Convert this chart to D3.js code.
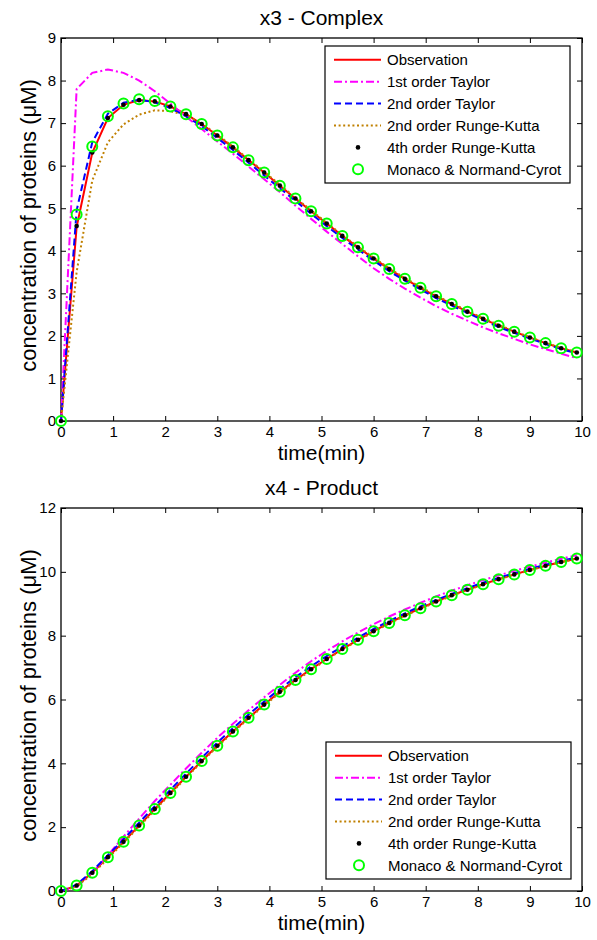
<!DOCTYPE html>
<html>
<head>
<meta charset="utf-8">
<script src="https://cdn.jsdelivr.net/npm/d3@7/dist/d3.min.js"></script>
<style>
  body { margin: 0; background: #fff; }
  svg text { font-family: "Liberation Sans", Arial, sans-serif; fill: #000; }
</style>
</head>
<body>
<svg id="chart" width="597" height="940"></svg>
<script>
// sample times (min)
const time = [0, 0.3, 0.6, 0.9, 1.2, 1.5, 1.8, 2.1, 2.4, 2.7, 3.0, 3.3, 3.6, 3.9, 4.2, 4.5, 4.8,
              5.1, 5.4, 5.7, 6.0, 6.3, 6.6, 6.9, 7.2, 7.5, 7.8, 8.1, 8.4, 8.7, 9.0, 9.3, 9.6, 9.9];

// x3 - Complex
const x3Obs     = [0, 4.56, 6.30, 7.12, 7.43, 7.54, 7.51, 7.39, 7.21, 6.98, 6.71, 6.43, 6.13, 5.84, 5.53, 5.23, 4.93,
                   4.64, 4.35, 4.08, 3.82, 3.57, 3.34, 3.13, 2.93, 2.75, 2.57, 2.40, 2.24, 2.10, 1.96, 1.83, 1.71, 1.61];
const x3Taylor1 = [0, 7.80, 8.18, 8.26, 8.18, 8.00, 7.75, 7.46, 7.15, 6.86, 6.57, 6.28, 5.98, 5.68, 5.38, 5.06, 4.75,
                   4.45, 4.16, 3.87, 3.59, 3.34, 3.11, 2.90, 2.70, 2.52, 2.36, 2.20, 2.06, 1.93, 1.80, 1.69, 1.58, 1.48];
const x3Taylor2 = [0, 4.95, 6.55, 7.22, 7.48, 7.55, 7.49, 7.35, 7.16, 6.93, 6.65, 6.37, 6.07, 5.77, 5.47, 5.17, 4.87,
                   4.58, 4.30, 4.03, 3.77, 3.52, 3.30, 3.09, 2.89, 2.71, 2.54, 2.37, 2.21, 2.07, 1.94, 1.81, 1.69, 1.59];
const x3RK2     = [0, 3.50, 5.65, 6.55, 6.97, 7.20, 7.30, 7.28, 7.18, 6.99, 6.73, 6.45, 6.15, 5.86, 5.55, 5.25, 4.95,
                   4.66, 4.37, 4.10, 3.84, 3.59, 3.36, 3.15, 2.95, 2.77, 2.59, 2.42, 2.26, 2.11, 1.97, 1.84, 1.72, 1.62];
const x3RK4     = [0, 4.58, 6.31, 7.12, 7.43, 7.54, 7.51, 7.39, 7.21, 6.98, 6.71, 6.43, 6.13, 5.84, 5.53, 5.23, 4.93,
                   4.64, 4.35, 4.08, 3.82, 3.57, 3.34, 3.13, 2.93, 2.75, 2.57, 2.40, 2.24, 2.10, 1.96, 1.83, 1.71, 1.61];
const x3Monaco  = [0, 4.85, 6.45, 7.16, 7.46, 7.56, 7.52, 7.39, 7.21, 6.98, 6.71, 6.43, 6.13, 5.84, 5.53, 5.23, 4.93,
                   4.64, 4.35, 4.08, 3.82, 3.57, 3.34, 3.13, 2.93, 2.75, 2.57, 2.40, 2.24, 2.10, 1.96, 1.83, 1.71, 1.61];

// x4 - Product
const x4Obs     = [0, 0.17, 0.57, 1.06, 1.54, 2.05, 2.57, 3.07, 3.58, 4.07, 4.55, 5.00, 5.43, 5.84, 6.24, 6.61, 6.95,
                   7.27, 7.58, 7.87, 8.14, 8.40, 8.64, 8.86, 9.07, 9.27, 9.44, 9.61, 9.77, 9.92, 10.06, 10.19, 10.31, 10.42];
const x4Taylor1 = [0, 0.12, 0.57, 1.12, 1.70, 2.27, 2.82, 3.33, 3.84, 4.33, 4.80, 5.24, 5.66, 6.07, 6.46, 6.84, 7.20,
                   7.52, 7.82, 8.10, 8.36, 8.60, 8.82, 9.03, 9.23, 9.41, 9.58, 9.74, 9.89, 10.03, 10.16, 10.29, 10.41, 10.52];
const x4Taylor2 = [0, 0.20, 0.62, 1.12, 1.62, 2.14, 2.66, 3.17, 3.68, 4.17, 4.65, 5.10, 5.53, 5.94, 6.33, 6.70, 7.04,
                   7.36, 7.66, 7.94, 8.21, 8.46, 8.70, 8.92, 9.12, 9.31, 9.49, 9.66, 9.81, 9.96, 10.09, 10.22, 10.34, 10.45];
const x4RK2     = [0, 0.14, 0.53, 1.02, 1.51, 2.02, 2.53, 3.04, 3.55, 4.04, 4.52, 4.97, 5.40, 5.81, 6.21, 6.58, 6.92,
                   7.25, 7.56, 7.85, 8.12, 8.38, 8.62, 8.84, 9.05, 9.25, 9.43, 9.60, 9.76, 9.91, 10.05, 10.18, 10.30, 10.41];
const x4RK4     = [0, 0.17, 0.57, 1.06, 1.54, 2.05, 2.57, 3.07, 3.58, 4.07, 4.55, 5.00, 5.43, 5.84, 6.24, 6.61, 6.95,
                   7.27, 7.58, 7.87, 8.14, 8.40, 8.64, 8.86, 9.07, 9.27, 9.44, 9.61, 9.77, 9.92, 10.06, 10.19, 10.31, 10.42];
const x4Monaco  = [0, 0.17, 0.57, 1.06, 1.54, 2.05, 2.57, 3.07, 3.58, 4.07, 4.55, 5.00, 5.43, 5.84, 6.24, 6.61, 6.95,
                   7.27, 7.58, 7.87, 8.14, 8.40, 8.64, 8.86, 9.07, 9.27, 9.44, 9.61, 9.77, 9.92, 10.06, 10.19, 10.31, 10.42];

const seriesNames = ["Observation", "1st order Taylor", "2nd order Taylor", "2nd order Runge-Kutta",
                     "4th order Runge-Kutta", "Monaco & Normand-Cyrot"];
const xTicks = [0, 1, 2, 3, 4, 5, 6, 7, 8, 9, 10];
const x3Ticks = [0, 1, 2, 3, 4, 5, 6, 7, 8, 9];
const x4Ticks = [0, 2, 4, 6, 8, 10, 12];

const styles = [
  {color: "#ff0000", dash: null},
  {color: "#ff00ff", dash: "8,3,2,3"},
  {color: "#0000ff", dash: "7,4"},
  {color: "#c08000", dash: "2,2.6"}
];

const svg = d3.select("#chart");
const left = 61, right = 582;

function panel(cfg) {
  const x = d3.scaleLinear().domain([0, 10]).range([left, right]);
  const y = d3.scaleLinear().domain([0, cfg.yMax]).range([cfg.bottom, cfg.top]);
  const g = svg.append("g");

  // axes (Matlab style: ticks inside, box on)
  const styleAxis = sel => {
    sel.select(".domain").remove();
    sel.selectAll("line").attr("stroke", "#000").attr("stroke-width", 1);
    sel.selectAll("text").attr("font-size", 15).attr("font-family", "Liberation Sans, Arial, sans-serif");
  };
  g.append("g").attr("transform", `translate(0,${cfg.bottom})`)
    .call(d3.axisBottom(x).tickValues(xTicks).tickSize(-5).tickPadding(5)).call(styleAxis);
  g.append("g").attr("transform", `translate(0,${cfg.top})`)
    .call(d3.axisTop(x).tickValues(xTicks).tickSize(-5).tickFormat("")).call(styleAxis);
  g.append("g").attr("transform", `translate(${left},0)`)
    .call(d3.axisLeft(y).tickValues(cfg.yTicks).tickSize(-5).tickPadding(5)).call(styleAxis);
  g.append("g").attr("transform", `translate(${right},0)`)
    .call(d3.axisRight(y).tickValues(cfg.yTicks).tickSize(-5).tickFormat("")).call(styleAxis);
  g.append("rect").attr("x", left).attr("y", cfg.top)
    .attr("width", right - left).attr("height", cfg.bottom - cfg.top)
    .attr("fill", "none").attr("stroke", "#000").attr("stroke-width", 1.3);

  const line = d3.line().x((d, i) => x(time[i])).y(d => y(d));
  cfg.lines.forEach((vals, k) => {
    g.append("path").datum(vals).attr("d", line)
      .attr("fill", "none").attr("stroke", styles[k].color).attr("stroke-width", 2)
      .attr("stroke-dasharray", styles[k].dash);
  });

  g.append("g").selectAll("circle").data(cfg.rk4).join("circle")
    .attr("cx", (d, i) => x(time[i])).attr("cy", d => y(d)).attr("r", 2.3).attr("fill", "#000");
  g.append("g").selectAll("circle").data(cfg.monaco).join("circle")
    .attr("cx", (d, i) => x(time[i])).attr("cy", d => y(d)).attr("r", 5)
    .attr("fill", "none").attr("stroke", "#00ff00").attr("stroke-width", 2);

  // titles and labels
  g.append("text").attr("x", (left + right) / 2).attr("y", cfg.titleY)
    .attr("text-anchor", "middle").attr("font-size", 21).text(cfg.title);
  g.append("text").attr("x", (left + right) / 2).attr("y", cfg.bottom + 39)
    .attr("text-anchor", "middle").attr("font-size", 21).text("time(min)");
  g.append("text")
    .attr("transform", `translate(36,${(cfg.top + cfg.bottom) / 2 - 4}) rotate(-90)`)
    .attr("text-anchor", "middle").attr("font-size", 22).text("concentration of proteins (\u03BCM)");

  // legend
  const lg = g.append("g").attr("transform", `translate(${cfg.legend[0]},${cfg.legend[1]})`);
  lg.append("rect").attr("width", 245).attr("height", 137)
    .attr("fill", "#fff").attr("stroke", "#000").attr("stroke-width", 1.2);
  seriesNames.forEach((name, k) => {
    const yy = 13.8 + k * 21.9;
    if (k < 4) {
      lg.append("line").attr("x1", 9).attr("x2", 56).attr("y1", yy).attr("y2", yy)
        .attr("stroke", styles[k].color).attr("stroke-width", 2)
        .attr("stroke-dasharray", styles[k].dash);
    } else if (k === 4) {
      lg.append("circle").attr("cx", 33).attr("cy", yy).attr("r", 2.3).attr("fill", "#000");
    } else {
      lg.append("circle").attr("cx", 33).attr("cy", yy).attr("r", 5)
        .attr("fill", "none").attr("stroke", "#00ff00").attr("stroke-width", 2);
    }
    lg.append("text").attr("x", 62).attr("y", yy + 5.3).attr("font-size", 15).text(name);
  });
}

panel({top: 38, bottom: 421, yMax: 9, yTicks: x3Ticks, title: "x3 - Complex", titleY: 25,
       lines: [x3Obs, x3Taylor1, x3Taylor2, x3RK2], rk4: x3RK4, monaco: x3Monaco, legend: [325, 46]});
panel({top: 508, bottom: 891, yMax: 12, yTicks: x4Ticks, title: "x4 - Product", titleY: 495,
       lines: [x4Obs, x4Taylor1, x4Taylor2, x4RK2], rk4: x4RK4, monaco: x4Monaco, legend: [326, 742]});
</script>
</body>
</html>
